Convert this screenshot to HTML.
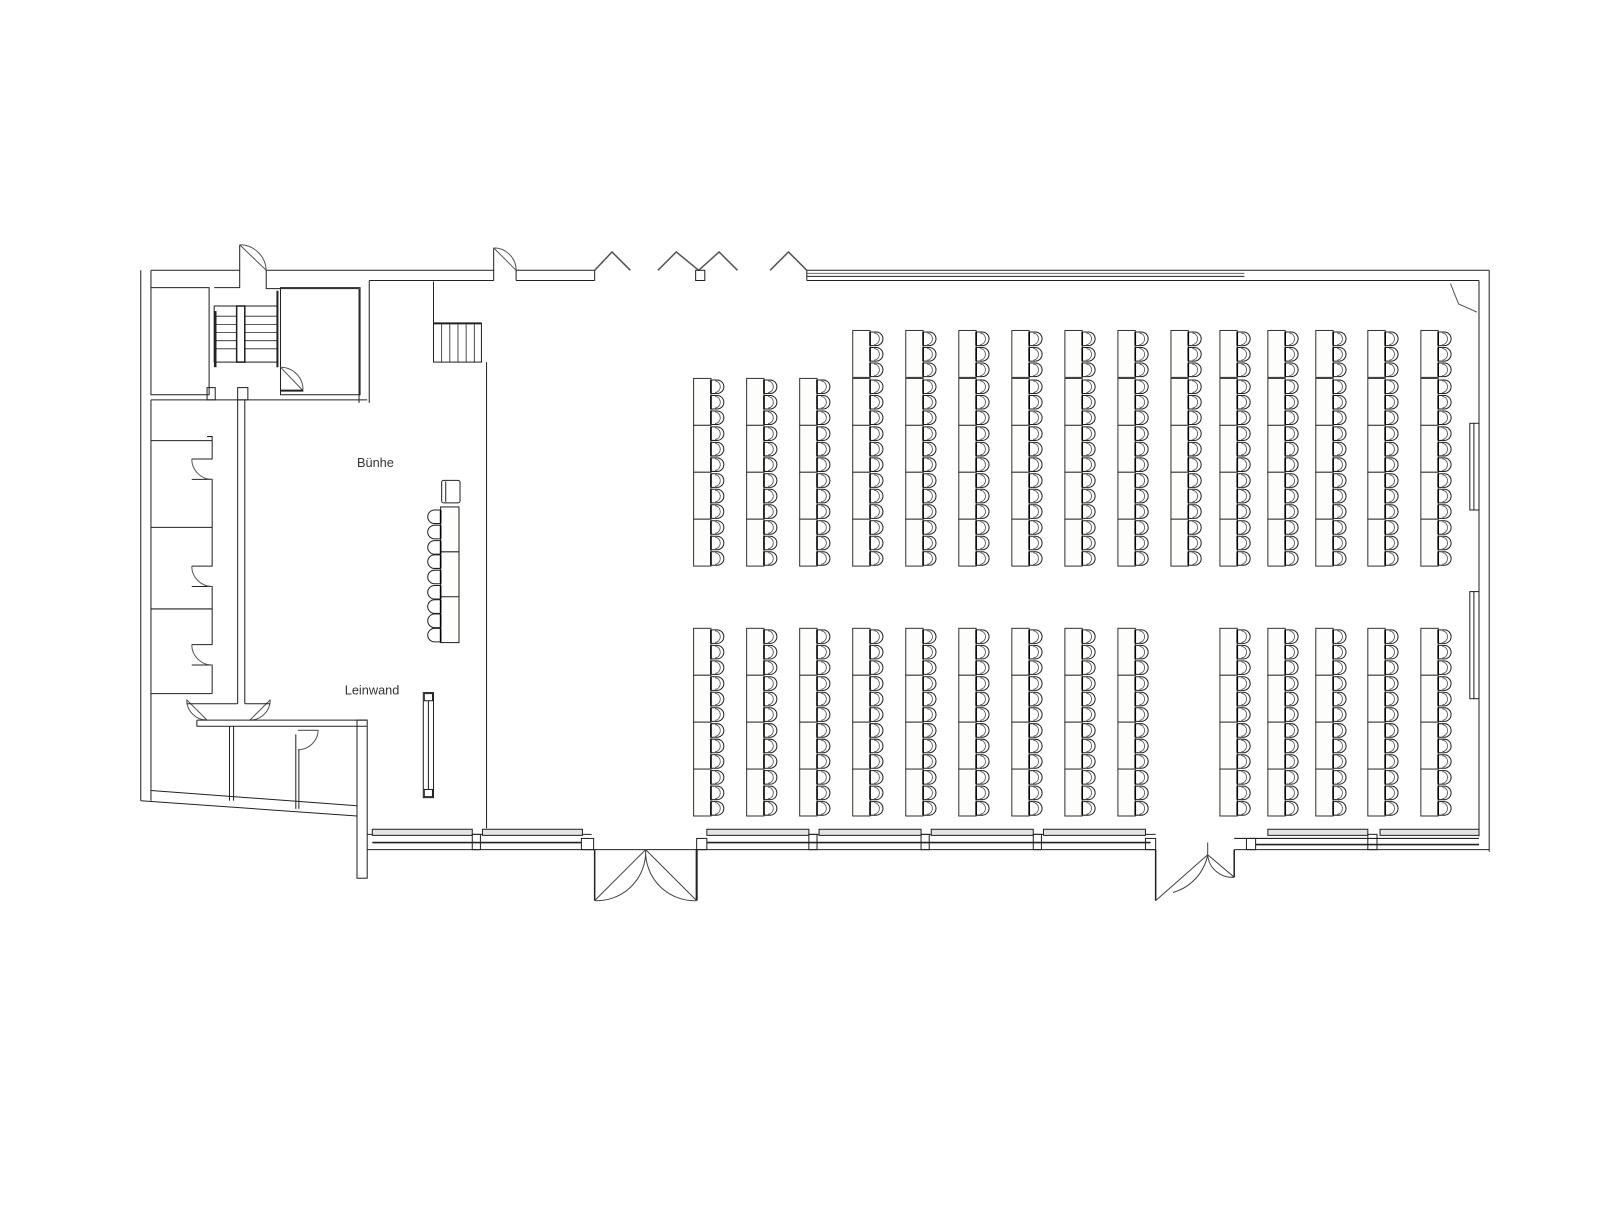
<!DOCTYPE html>
<html><head><meta charset="utf-8"><style>
html,body{margin:0;padding:0;background:#fff;}
svg{display:block;}
text{font-family:"Liberation Sans",sans-serif;font-size:12.5px;fill:#333;}
</style></head><body>
<svg width="1600" height="1218" viewBox="0 0 1600 1218" xmlns="http://www.w3.org/2000/svg">
<defs>
<g id="ch">
<path d="M17,1 h6 a6.5,6.5 0 0 1 0,13.3 h-6" fill="#fff" stroke="#222" stroke-width="1"/>
<path d="M21,2 a5,5.5 0 0 1 0,11.3" fill="none" stroke="#555" stroke-width="0.8"/>
<line x1="17" y1="1" x2="17" y2="14.3" stroke="#000" stroke-width="1.6"/>
</g>
<g id="u">
<rect x="0" y="0" width="17" height="46" fill="#fdfdfb" stroke="#333" stroke-width="1"/>
<use href="#ch" y="0.5"/><use href="#ch" y="15.7"/><use href="#ch" y="30.9"/>
</g>
<g id="c4"><use href="#u" y="0"/><use href="#u" y="46"/><use href="#u" y="92"/><use href="#u" y="138"/></g>
<g id="c5"><use href="#u" y="0"/><use href="#c4" y="47"/></g>
<g id="sc">
<path d="M12,1 h-6 a6.5,6.5 0 0 0 0,13.3 h6" fill="#fff" stroke="#222" stroke-width="1"/>
<line x1="12" y1="1" x2="12" y2="14.3" stroke="#000" stroke-width="1.6"/>
</g>
</defs>
<g transform="scale(1.02)" fill="none" stroke="#222" stroke-width="1">
<!-- top walls left part -->
<polyline points="148,265 235,265 235,240"/>
<polyline points="261,265 261,283 352,283"/>
<polyline points="148,265 148,265"/>
<line x1="138" y1="265" x2="138" y2="785"/>
<line x1="148" y1="265" x2="148" y2="282"/>
<polyline points="261,265 484,265 484,243"/>
<line x1="235" y1="276" x2="235" y2="265"/>
<polyline points="210,282 235,282 235,276"/>
<path d="M235,240 A26,26 0 0 1 261,265" stroke="#555"/>
<line x1="235" y1="240" x2="261" y2="265" stroke="#555"/>
<!-- left rooms top -->
<rect x="148" y="282" width="57" height="105"/>
<rect x="210" y="300" width="62" height="55"/>
<g stroke-width="0.8"><line x1="212" y1="310" x2="232" y2="310"/><line x1="212" y1="318" x2="232" y2="318"/><line x1="212" y1="326" x2="232" y2="326"/><line x1="212" y1="334" x2="232" y2="334"/><line x1="212" y1="342" x2="232" y2="342"/><line x1="240" y1="310" x2="272" y2="310"/><line x1="240" y1="318" x2="272" y2="318"/><line x1="240" y1="326" x2="272" y2="326"/><line x1="240" y1="334" x2="272" y2="334"/><line x1="240" y1="342" x2="272" y2="342"/></g>
<rect x="232" y="300" width="8" height="55" stroke-width="1.5"/>
<line x1="211" y1="305" x2="211" y2="360" stroke-width="2.5"/>
<line x1="272" y1="285" x2="272" y2="360" stroke-width="2"/>
<rect x="275" y="282" width="78" height="105"/>
<path d="M275,360 A22,22 0 0 1 297,383 L275,360" stroke="#555"/>
<line x1="275" y1="383" x2="297" y2="383" stroke-width="2"/>
<!-- corridor row -->
<line x1="148" y1="392" x2="360" y2="392"/>
<line x1="233" y1="392" x2="233" y2="690"/><line x1="240" y1="392" x2="240" y2="690"/>
<line x1="148" y1="392" x2="148" y2="785"/>
<rect x="203" y="380" width="8" height="12"/><rect x="233" y="380" width="10" height="12"/>
<!-- vertical wall near stage -->
<line x1="352" y1="283" x2="352" y2="395"/><line x1="362" y1="275" x2="362" y2="395"/>
<polyline points="362,275 484,275"/>
<line x1="484" y1="265" x2="484" y2="275"/>
<!-- stage -->
<line x1="425" y1="276" x2="425" y2="355"/>
<rect x="425" y="317" width="47" height="38"/>
<line x1="425" y1="317" x2="472" y2="317" stroke-width="2"/>
<g stroke-width="0.8"><line x1="433" y1="318" x2="433" y2="355"/><line x1="441" y1="318" x2="441" y2="355"/><line x1="449" y1="318" x2="449" y2="355"/><line x1="457" y1="318" x2="457" y2="355"/><line x1="465" y1="318" x2="465" y2="355"/></g>
<line x1="477" y1="355" x2="477" y2="812"/>
<!-- left rooms with doors -->
<line x1="148" y1="432" x2="208" y2="432"/><line x1="148" y1="517" x2="208" y2="517"/><line x1="148" y1="597" x2="208" y2="597"/><line x1="148" y1="680" x2="208" y2="680"/>
<polyline points="203,428 208,428 208,450 188,450"/><polyline points="188,470 208,470 208,555 188,555"/>
<polyline points="188,575 208,575 208,632 188,632"/><polyline points="188,652 208,652 208,680"/>
<path d="M188,450 A20,20 0 0 0 208,470" stroke="#555"/><path d="M188,555 A20,20 0 0 0 208,575" stroke="#555"/><path d="M188,632 A20,20 0 0 0 208,652" stroke="#555"/>
<!-- lower corridor doors -->
<path d="M183,686 A20,20 0 0 0 203,706" stroke="#555"/><line x1="183" y1="686" x2="203" y2="706" stroke="#555"/>
<path d="M265,686 A20,20 0 0 1 245,706" stroke="#555"/><line x1="265" y1="686" x2="245" y2="706" stroke="#555"/>
<polyline points="233,690 183,690"/><polyline points="240,690 265,690"/>
<polyline points="193,706 193,712 360,712"/><line x1="193" y1="706" x2="360" y2="706"/>
<line x1="225" y1="712" x2="225" y2="785"/><line x1="229" y1="712" x2="229" y2="785"/>
<line x1="290" y1="720" x2="290" y2="793"/><line x1="293" y1="735" x2="293" y2="793"/>
<path d="M292,716 h20 M292,735 A20,20 0 0 0 312,716" stroke="#555"/>
<rect x="350" y="706" width="10" height="155"/>
<line x1="138" y1="785" x2="350" y2="800"/><line x1="148" y1="775" x2="350" y2="790"/>
<!-- main hall top wall -->
<path d="M484,243 A22,22 0 0 1 506,265 L484,243" stroke="#555"/>
<line x1="506" y1="265" x2="583" y2="265"/><line x1="506" y1="275" x2="583" y2="275"/><line x1="506" y1="265" x2="506" y2="275"/><line x1="583" y1="265" x2="583" y2="275"/>
<polyline points="583,265 600,247 618,265" stroke="#555" stroke-width="1.5"/>
<polyline points="645,265 663,247 685,265 705,247 723,265" stroke="#555" stroke-width="1.5"/>
<rect x="682" y="265" width="9" height="10"/>
<polyline points="755,265 773,247 791,265" stroke="#555" stroke-width="1.5"/>
<line x1="791" y1="265" x2="1460" y2="265"/><line x1="791" y1="275" x2="1422" y2="275"/>
<line x1="791" y1="268" x2="1220" y2="268" stroke="#666"/><line x1="791" y1="271" x2="1220" y2="271"/>
<line x1="791" y1="265" x2="791" y2="275"/>
<!-- right wall -->
<line x1="1460" y1="265" x2="1460" y2="835"/><line x1="1450" y1="275" x2="1450" y2="820"/>
<line x1="1422" y1="275" x2="1450" y2="275"/>
<path d="M1422,278 l8,20 l18,8" stroke="#555"/>
<rect x="1441" y="415" width="9" height="85"/><line x1="1445" y1="415" x2="1445" y2="500"/>
<rect x="1441" y="580" width="9" height="105"/><line x1="1445" y1="580" x2="1445" y2="685"/>
<!-- bottom wall -->
<g>
<line x1="360" y1="818" x2="580" y2="818"/><line x1="360" y1="833" x2="583" y2="833"/>
<rect x="365" y="813" width="98" height="6" fill="#e4e4e4"/><rect x="473" y="813" width="98" height="6" fill="#e4e4e4"/>
<line x1="365" y1="826" x2="570" y2="826" stroke-width="1.6"/>
<rect x="463" y="818" width="8" height="15"/><rect x="570" y="822" width="12" height="11"/>
<line x1="583" y1="833" x2="683" y2="833"/>
<line x1="583" y1="833" x2="583" y2="883" stroke-width="1.5"/><line x1="683" y1="833" x2="683" y2="883" stroke-width="2"/>
<path d="M633,833 L583,883 M633,833 L683,883 M633,833 A48,48 0 0 1 583,883 M633,833 A48,48 0 0 0 683,883" stroke="#444"/>
<line x1="683" y1="833" x2="1133" y2="833"/><line x1="693" y1="818" x2="1133" y2="818"/>
<rect x="683" y="822" width="10" height="11"/>
<rect x="693" y="813" width="100" height="6" fill="#e4e4e4"/><rect x="803" y="813" width="100" height="6" fill="#e4e4e4"/><rect x="913" y="813" width="100" height="6" fill="#e4e4e4"/><rect x="1023" y="813" width="100" height="6" fill="#e4e4e4"/>
<line x1="693" y1="826" x2="1128" y2="826" stroke-width="1.6"/>
<rect x="793" y="818" width="8" height="15"/><rect x="903" y="818" width="8" height="15"/><rect x="1013" y="818" width="8" height="15"/><rect x="1123" y="822" width="10" height="11"/>
<line x1="1133" y1="833" x2="1133" y2="883" stroke-width="1.5"/>
<path d="M1184,826 L1184,838 M1184,838 L1133,883 M1184,838 A48,48 0 0 1 1150,875 M1184,838 L1210,860 M1184,838 A24,24 0 0 0 1210,860" stroke="#444"/>
<line x1="1210" y1="833" x2="1210" y2="860" stroke-width="1.5"/>
<line x1="1210" y1="833" x2="1460" y2="833"/><line x1="1210" y1="822" x2="1450" y2="822"/>
<rect x="1222" y="822" width="9" height="11"/>
<rect x="1243" y="813" width="98" height="6" fill="#e4e4e4"/><rect x="1353" y="813" width="97" height="6" fill="#e4e4e4"/>
<line x1="1231" y1="828" x2="1450" y2="828" stroke-width="1.6"/>
<rect x="1341" y="818" width="9" height="15"/>
</g>
<!-- Leinwand -->
<rect x="415" y="679" width="10" height="103"/><rect x="416" y="680" width="8" height="7"/><rect x="416" y="774" width="8" height="7"/><line x1="420" y1="687" x2="420" y2="774"/>
<!-- stage table -->
<rect x="433" y="471" width="18" height="22" rx="2"/><line x1="437" y1="472" x2="437" y2="492"/>
<rect x="432" y="497" width="18" height="133" fill="#fdfdfb"/><line x1="432" y1="541" x2="450" y2="541"/><line x1="432" y1="585" x2="450" y2="585"/>
</g>
<g transform="scale(1.02)">
<use href="#sc" x="420" y="499"/><use href="#sc" x="420" y="514"/><use href="#sc" x="420" y="529"/><use href="#sc" x="420" y="543"/><use href="#sc" x="420" y="558"/><use href="#sc" x="420" y="573"/><use href="#sc" x="420" y="587"/><use href="#sc" x="420" y="601"/><use href="#sc" x="420" y="615"/>
<!-- top block -->
<use href="#c4" x="680" y="371"/><use href="#c4" x="732" y="371"/><use href="#c4" x="784" y="371"/>
<use href="#c5" x="836" y="324"/><use href="#c5" x="888" y="324"/><use href="#c5" x="940" y="324"/><use href="#c5" x="992" y="324"/><use href="#c5" x="1044" y="324"/><use href="#c5" x="1096" y="324"/><use href="#c5" x="1148" y="324"/><use href="#c5" x="1196" y="324"/><use href="#c5" x="1243" y="324"/><use href="#c5" x="1290" y="324"/><use href="#c5" x="1341" y="324"/><use href="#c5" x="1393" y="324"/>
<!-- bottom block -->
<use href="#c4" x="680" y="616"/><use href="#c4" x="732" y="616"/><use href="#c4" x="784" y="616"/><use href="#c4" x="836" y="616"/><use href="#c4" x="888" y="616"/><use href="#c4" x="940" y="616"/><use href="#c4" x="992" y="616"/><use href="#c4" x="1044" y="616"/><use href="#c4" x="1096" y="616"/>
<use href="#c4" x="1196" y="616"/><use href="#c4" x="1243" y="616"/><use href="#c4" x="1290" y="616"/><use href="#c4" x="1341" y="616"/><use href="#c4" x="1393" y="616"/>
<text x="350" y="458">Bünhe</text>
<text x="338" y="681">Leinwand</text>
</g>
</svg>
</body></html>
